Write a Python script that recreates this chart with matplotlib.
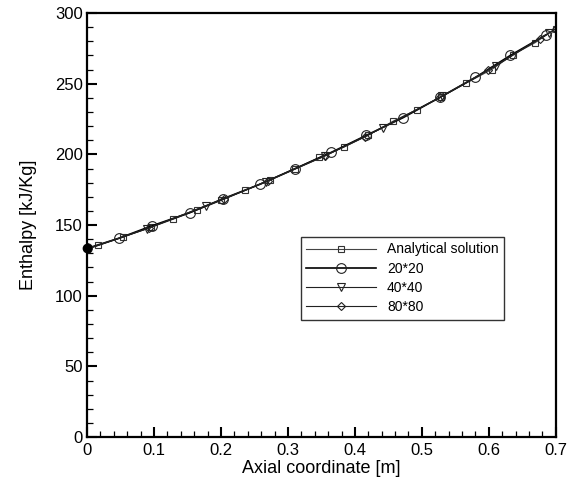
import matplotlib
matplotlib.use("Agg")
import matplotlib.pyplot as plt
from matplotlib.ticker import MultipleLocator

plt.rcParams['font.family'] = ['Liberation Sans', 'DejaVu Sans']

# Analytical solution (squares)
x_analytical = [0.0, 0.017, 0.054, 0.096, 0.129, 0.164, 0.200, 0.236, 0.273, 0.310,
                0.347, 0.383, 0.420, 0.457, 0.492, 0.529, 0.566, 0.604, 0.636, 0.669, 0.700]
h_analytical = [133.0, 135.6, 141.5, 148.5, 154.2, 160.6, 167.4, 174.5, 182.0, 189.8,
                197.9, 205.0, 213.6, 223.5, 231.6, 240.7, 250.4, 260.0, 270.6, 279.0, 289.0]

# 20*20 (circles)
x_20 = [0.0, 0.047, 0.097, 0.153, 0.203, 0.258, 0.311, 0.365, 0.417, 0.472, 0.527, 0.580, 0.632, 0.685]
h_20 = [133.5, 140.6, 149.5, 158.7, 168.6, 178.8, 190.0, 201.5, 213.5, 226.0, 240.4, 254.5, 270.0, 284.5]

# 40*40 (triangles)
x_40 = [0.0, 0.090, 0.178, 0.267, 0.356, 0.442, 0.530, 0.610, 0.690]
h_40 = [133.0, 147.5, 163.8, 180.5, 199.0, 219.0, 241.0, 262.5, 286.0]

# 80*80 (diamonds)
x_80 = [0.0, 0.093, 0.205, 0.270, 0.355, 0.415, 0.527, 0.598, 0.676, 0.700]
h_80 = [133.2, 148.0, 168.5, 181.5, 199.0, 212.5, 240.4, 259.5, 282.0, 289.0]

fig = plt.figure(figsize=(5.73, 4.84), dpi=100)
ax = fig.add_axes([0.152, 0.097, 0.818, 0.876])

ax.plot(x_analytical, h_analytical, color='#444444', lw=0.8, marker='s', ms=5,
        mfc='none', mec='#333333', mew=0.8, label='Analytical solution')
ax.plot(x_20, h_20, color='black', lw=1.2, marker='o', ms=7,
        mfc='none', mec='#222222', mew=0.8, label='20*20')
ax.plot(x_40, h_40, color='#222222', lw=0.8, marker='v', ms=5.5,
        mfc='none', mec='#222222', mew=0.8, label='40*40')
ax.plot(x_80, h_80, color='#222222', lw=0.8, marker='D', ms=4.5,
        mfc='none', mec='#222222', mew=0.8, label='80*80')
ax.plot([0.0], [133.5], marker='o', ms=6, color='black', zorder=5, clip_on=False)

ax.set_xlim(0, 0.7)
ax.set_ylim(0, 300)
ax.xaxis.set_major_locator(MultipleLocator(0.1))
ax.xaxis.set_minor_locator(MultipleLocator(0.02))
ax.yaxis.set_major_locator(MultipleLocator(50))
ax.yaxis.set_minor_locator(MultipleLocator(10))
ax.set_xticks([0, 0.1, 0.2, 0.3, 0.4, 0.5, 0.6, 0.7])
ax.set_xticklabels(['0', '0.1', '0.2', '0.3', '0.4', '0.5', '0.6', '0.7'])

ax.tick_params(which='both', direction='in', top=False, right=False, labelsize=12,
               colors='black')
ax.tick_params(axis='x', which='major', length=7, width=1.5, pad=4)
ax.tick_params(axis='y', which='major', length=7, width=1.5, pad=3)
ax.tick_params(which='minor', length=4, width=0.9)
for s in ax.spines.values():
    s.set_linewidth(1.6)

ax.set_xlabel('Axial coordinate [m]', fontsize=13, labelpad=2)
ax.set_ylabel('Enthalpy [kJ/Kg]', fontsize=13, labelpad=13)

leg = ax.legend(loc='upper left', bbox_to_anchor=(0.456, 0.472), fontsize=10,
                frameon=True, fancybox=False, edgecolor='#333333', framealpha=1,
                handlelength=5.0, handletextpad=0.8, labelspacing=0.38,
                borderpad=0.4, borderaxespad=0)
leg.get_frame().set_linewidth(1.0)

fig.savefig('out.png', dpi=100)
